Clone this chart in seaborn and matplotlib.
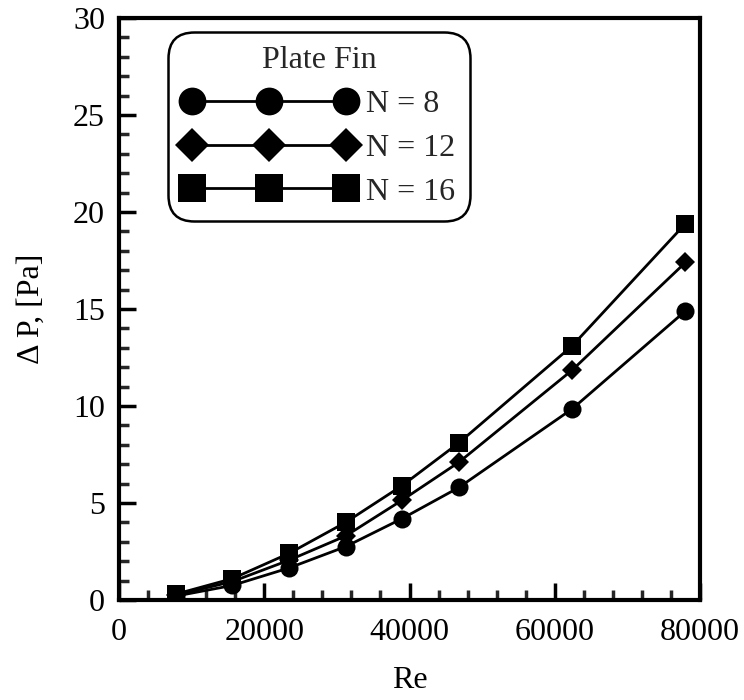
import numpy as np
import pandas as pd
import matplotlib
matplotlib.use("Agg")
import matplotlib.pyplot as plt
import seaborn as sns
from matplotlib.ticker import MultipleLocator

re_vals = [7800, 15600, 23400, 31200, 39000, 46800, 62400, 78000]
dp_n8 = [0.2, 0.75, 1.65, 2.75, 4.2, 5.8, 9.85, 14.9]
dp_n12 = [0.25, 0.95, 2.05, 3.3, 5.15, 7.1, 11.85, 17.4]
dp_n16 = [0.3, 1.1, 2.4, 4.0, 5.9, 8.1, 13.1, 19.4]
labels = ["N = 8", "N = 12", "N = 16"]

df = pd.DataFrame({
    "Re": re_vals * 3,
    "dP": dp_n8 + dp_n12 + dp_n16,
    "N": [labels[0]] * 8 + [labels[1]] * 8 + [labels[2]] * 8,
})

sns.set_theme(style="ticks")
plt.rcParams["font.family"] = ["Liberation Serif", "DejaVu Serif"]

FS = 23

fig = plt.figure(figsize=(7.44, 7.0), dpi=100)
ax = fig.add_axes([119 / 744, 100 / 700, 581 / 744, 582 / 700])

sns.lineplot(
    data=df, x="Re", y="dP", hue="N", style="N",
    palette=["black"] * 3,
    markers={labels[0]: "o", labels[1]: "D", labels[2]: "s"},
    dashes=False, markersize=13, linewidth=2, markeredgewidth=0,
    ax=ax, legend=True,
)
for line in ax.lines:
    if line.get_marker() == "D":
        line.set_markersize(10)

ax.set_xlim(0, 80000)
ax.set_ylim(0, 30)
ax.xaxis.set_major_locator(MultipleLocator(20000))
ax.xaxis.set_minor_locator(MultipleLocator(4000))
ax.yaxis.set_major_locator(MultipleLocator(5))
ax.yaxis.set_minor_locator(MultipleLocator(1))
ax.tick_params(axis="both", which="major", direction="in", length=12, width=2.5,
               labelsize=FS, colors="black", top=False, right=False)
ax.tick_params(axis="x", which="major", pad=13)
ax.tick_params(axis="y", which="major", pad=10)
ax.tick_params(axis="both", which="minor", direction="in", length=7, width=2.5,
               top=False, right=False)
for s in ax.spines.values():
    s.set_linewidth(3)
    s.set_color("black")
    s.set_visible(True)

ax.set_xlabel("Re", fontsize=FS, color="black", labelpad=14)
ax.set_ylabel("Δ P, [Pa]", fontsize=FS, color="black", labelpad=20)

handles, lbls = ax.get_legend_handles_labels()
for h in handles:
    h.set_linewidth(2)
    h.set_markersize(20)
    if h.get_marker() == "D":
        h.set_markersize(17)
leg = ax.legend(handles, lbls, title="Plate Fin", loc="upper left",
                bbox_to_anchor=(0.085, 0.976), fontsize=FS, title_fontsize=FS,
                numpoints=3, handlelength=5.4, handletextpad=0.35,
                labelspacing=0.45, borderpad=0.45, borderaxespad=0.0,
                fancybox=True, frameon=True, edgecolor="black", framealpha=1)
leg.get_frame().set_linewidth(1.8)
leg.get_frame().set_boxstyle("round", pad=0.0, rounding_size=0.8)

fig.savefig("out.png", dpi=100)
